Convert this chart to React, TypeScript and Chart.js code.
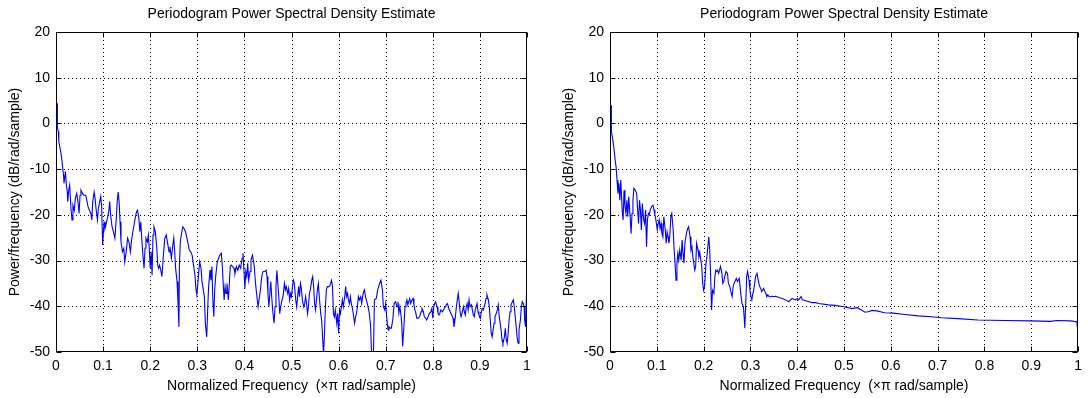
import React, { useEffect, useRef } from "react";
import { Chart, registerables } from "chart.js";

Chart.register(...registerables);
Chart.defaults.font.family = '"Liberation Sans", Arial, Helvetica, sans-serif';

// ---- shared labels and ticks ----
const chartTitle = "Periodogram Power Spectral Density Estimate";
const xAxisTitle = "Normalized Frequency  (\u00d7\u03c0 rad/sample)";
const yAxisTitle = "Power/frequency (dB/rad/sample)";
const xTicks = [0, 0.1, 0.2, 0.3, 0.4, 0.5, 0.6, 0.7, 0.8, 0.9, 1];
const xTickLabels = ["0", "0.1", "0.2", "0.3", "0.4", "0.5", "0.6", "0.7", "0.8", "0.9", "1"];
const yTicks = [-50, -40, -30, -20, -10, 0, 10, 20];
const yTickLabels = ["-50", "-40", "-30", "-20", "-10", "0", "10", "20"];

// ---- left panel: raw periodogram ----
const leftFreq = [
  0.003, 0.003, 0.005, 0.006, 0.010, 0.012, 0.014, 0.016, 0.017, 0.020,
  0.022, 0.024, 0.025, 0.027, 0.029, 0.032, 0.034, 0.036, 0.039, 0.041,
  0.044, 0.047, 0.049, 0.051, 0.053, 0.056, 0.059, 0.063, 0.066, 0.068,
  0.071, 0.074, 0.076, 0.078, 0.081, 0.083, 0.085, 0.088, 0.090, 0.092,
  0.095, 0.097, 0.099, 0.102, 0.104, 0.106, 0.109, 0.112, 0.114, 0.116,
  0.119, 0.122, 0.125, 0.128, 0.130, 0.132, 0.134, 0.136, 0.138, 0.141,
  0.144, 0.146, 0.149, 0.152, 0.155, 0.158, 0.160, 0.162, 0.165, 0.168,
  0.171, 0.173, 0.176, 0.178, 0.180, 0.182, 0.184, 0.187, 0.189, 0.191,
  0.194, 0.196, 0.198, 0.200, 0.202, 0.204, 0.206, 0.208, 0.211, 0.214,
  0.216, 0.218, 0.220, 0.223, 0.225, 0.228, 0.231, 0.234, 0.237, 0.240,
  0.242, 0.245, 0.248, 0.250, 0.252, 0.254, 0.257, 0.259, 0.261, 0.262,
  0.264, 0.266, 0.269, 0.272, 0.275, 0.278, 0.281, 0.283, 0.286, 0.289,
  0.292, 0.295, 0.297, 0.299, 0.302, 0.305, 0.308, 0.310, 0.315, 0.317,
  0.320, 0.322, 0.324, 0.327, 0.329, 0.331, 0.333, 0.335, 0.337, 0.339,
  0.342, 0.345, 0.348, 0.351, 0.353, 0.355, 0.357, 0.359, 0.361, 0.363,
  0.366, 0.368, 0.370, 0.372, 0.375, 0.378, 0.380, 0.383, 0.386, 0.389,
  0.392, 0.395, 0.397, 0.399, 0.401, 0.403, 0.405, 0.407, 0.409, 0.412,
  0.414, 0.417, 0.419, 0.421, 0.423, 0.425, 0.427, 0.429, 0.431, 0.434,
  0.436, 0.438, 0.440, 0.443, 0.446, 0.448, 0.450, 0.452, 0.454, 0.456,
  0.458, 0.460, 0.463, 0.465, 0.467, 0.469, 0.471, 0.473, 0.475, 0.477,
  0.480, 0.482, 0.485, 0.487, 0.489, 0.492, 0.494, 0.496, 0.498, 0.500,
  0.502, 0.504, 0.506, 0.509, 0.511, 0.513, 0.515, 0.517, 0.519, 0.521,
  0.523, 0.526, 0.528, 0.530, 0.532, 0.534, 0.536, 0.538, 0.540, 0.543,
  0.545, 0.547, 0.549, 0.551, 0.553, 0.555, 0.557, 0.559, 0.562, 0.564,
  0.566, 0.568, 0.570, 0.572, 0.574, 0.576, 0.579, 0.581, 0.583, 0.585,
  0.587, 0.589, 0.591, 0.593, 0.596, 0.598, 0.600, 0.602, 0.604, 0.606,
  0.608, 0.610, 0.613, 0.615, 0.617, 0.619, 0.621, 0.623, 0.625, 0.627,
  0.630, 0.632, 0.634, 0.636, 0.638, 0.640, 0.642, 0.644, 0.647, 0.649,
  0.651, 0.653, 0.655, 0.657, 0.659, 0.661, 0.664, 0.666, 0.668, 0.670,
  0.674, 0.676, 0.680, 0.683, 0.687, 0.690, 0.693, 0.695, 0.698, 0.700,
  0.702, 0.705, 0.707, 0.710, 0.712, 0.715, 0.718, 0.721, 0.724, 0.726,
  0.728, 0.730, 0.732, 0.734, 0.736, 0.739, 0.741, 0.743, 0.745, 0.747,
  0.749, 0.751, 0.753, 0.756, 0.758, 0.760, 0.762, 0.764, 0.766, 0.769,
  0.772, 0.775, 0.777, 0.780, 0.782, 0.785, 0.787, 0.790, 0.793, 0.796,
  0.798, 0.800, 0.802, 0.804, 0.806, 0.809, 0.811, 0.813, 0.815, 0.817,
  0.820, 0.823, 0.826, 0.828, 0.831, 0.834, 0.837, 0.840, 0.843, 0.845,
  0.848, 0.850, 0.852, 0.854, 0.856, 0.858, 0.860, 0.862, 0.865, 0.867,
  0.869, 0.871, 0.873, 0.875, 0.877, 0.879, 0.882, 0.884, 0.886, 0.888,
  0.890, 0.892, 0.894, 0.896, 0.898, 0.901, 0.903, 0.905, 0.907, 0.909,
  0.911, 0.913, 0.915, 0.918, 0.920, 0.922, 0.924, 0.926, 0.928, 0.930,
  0.932, 0.935, 0.937, 0.939, 0.941, 0.943, 0.945, 0.947, 0.949, 0.952,
  0.954, 0.956, 0.958, 0.960, 0.962, 0.964, 0.966, 0.969, 0.971, 0.973,
  0.975, 0.977, 0.979, 0.981, 0.983, 0.986, 0.988, 0.990, 0.992, 0.994,
  0.995, 0.997, 1.000,
];

const leftPower = [
  4.4, -1.0, -1.8, -4.0, -6.2, -7.6, -9.5, -11.3, -13.1, -10.5,
  -13.5, -15.0, -17.1, -14.6, -13.5, -19.0, -21.1, -17.9, -19.0, -16.4,
  -15.3, -17.5, -19.7, -15.7, -14.6, -15.3, -15.7, -15.7, -17.1, -18.2,
  -19.0, -19.7, -21.1, -17.1, -15.0, -16.4, -18.6, -21.1, -18.6, -17.5,
  -16.0, -18.2, -26.6, -21.5, -23.0, -22.2, -20.8, -19.3, -17.1, -20.0,
  -22.6, -23.7, -25.1, -20.8, -17.1, -15.0, -17.1, -21.5, -25.9, -28.1,
  -27.3, -30.3, -28.1, -25.1, -25.9, -28.1, -25.9, -24.4, -22.6, -20.8,
  -19.3, -19.0, -20.8, -23.7, -21.5, -25.1, -28.1, -31.7, -27.3, -25.1,
  -25.9, -24.4, -27.3, -31.7, -28.1, -33.2, -24.4, -22.6, -23.7, -27.3,
  -31.0, -31.7, -31.0, -32.4, -33.5, -28.8, -25.1, -24.4, -26.2, -28.1,
  -27.0, -29.5, -26.6, -25.1, -28.1, -31.7, -34.6, -39.0, -44.5, -31.0,
  -25.9, -24.4, -22.6, -23.0, -23.7, -25.1, -26.6, -27.7, -28.1, -28.8,
  -31.0, -33.2, -36.1, -37.5, -33.9, -30.3, -31.7, -34.6, -37.9, -43.7,
  -46.7, -40.8, -35.7, -32.1, -34.3, -31.3, -38.6, -42.3, -36.4, -33.5,
  -30.6, -29.5, -28.8, -28.4, -31.0, -35.0, -38.6, -35.7, -37.2, -35.0,
  -38.6, -35.0, -31.3, -31.0, -31.3, -31.7, -32.8, -31.3, -32.1, -31.0,
  -31.7, -29.5, -28.4, -32.1, -36.1, -32.4, -33.5, -30.6, -34.3, -32.4,
  -29.9, -28.8, -29.9, -31.3, -34.3, -36.4, -38.3, -40.1, -38.6, -36.4,
  -34.3, -32.8, -32.4, -32.4, -32.1, -33.5, -37.2, -40.1, -37.2, -34.6,
  -37.9, -40.8, -43.7, -40.1, -35.7, -32.1, -35.0, -37.9, -41.6, -40.1,
  -38.6, -37.9, -35.0, -36.4, -35.7, -37.2, -36.1, -38.6, -37.2, -37.9,
  -35.7, -34.3, -35.0, -38.6, -40.1, -37.9, -35.7, -37.9, -35.0, -36.1,
  -38.6, -40.1, -39.4, -37.9, -39.4, -41.6, -40.1, -37.2, -36.4, -34.3,
  -33.5, -35.7, -39.4, -40.8, -38.6, -36.4, -35.0, -37.9, -41.6, -43.0,
  -46.7, -50.5, -45.9, -40.1, -36.4, -35.7, -35.7, -35.6, -35.0, -34.3,
  -35.7, -41.6, -42.3, -40.8, -43.7, -41.6, -45.9, -40.8, -41.6, -40.1,
  -38.6, -40.1, -37.9, -35.7, -37.9, -37.2, -38.6, -39.4, -37.9, -39.4,
  -40.8, -42.3, -43.7, -42.3, -41.6, -40.1, -37.9, -38.6, -37.9, -39.4,
  -37.9, -36.8, -36.4, -37.9, -38.6, -39.4, -40.8, -42.3, -44.5, -50.5,
  -50.5, -38.6, -38.3, -36.4, -35.0, -34.3, -36.4, -40.1, -40.8, -39.4,
  -42.3, -45.2, -44.5, -44.8, -44.8, -43.0, -39.4, -39.0, -40.1, -39.0,
  -41.5, -40.1, -41.5, -43.7, -48.8, -43.7, -40.1, -39.4, -38.6, -39.7,
  -39.0, -38.3, -39.4, -38.6, -38.3, -39.7, -40.8, -41.5, -42.6, -42.6,
  -42.3, -41.2, -40.5, -41.2, -42.3, -42.6, -43.0, -42.3, -41.5, -41.2,
  -40.5, -42.6, -40.1, -39.4, -39.0, -40.1, -41.5, -41.9, -41.5, -40.8,
  -41.2, -40.8, -40.1, -39.7, -39.4, -40.5, -41.2, -41.9, -42.6, -44.5,
  -42.3, -40.1, -38.6, -37.2, -39.0, -41.2, -42.3, -41.5, -40.1, -41.2,
  -41.9, -40.1, -39.4, -40.8, -38.6, -40.1, -39.7, -40.8, -41.9, -42.3,
  -40.8, -40.1, -39.4, -41.2, -41.9, -42.6, -41.2, -40.5, -40.8, -40.1,
  -39.4, -38.3, -37.5, -38.6, -40.1, -43.0, -45.9, -46.7, -45.2, -43.7,
  -42.3, -41.5, -40.8, -39.7, -42.3, -43.7, -45.2, -47.4, -48.1, -46.7,
  -44.8, -47.4, -48.1, -45.9, -43.0, -41.2, -39.7, -39.0, -38.6, -40.1,
  -42.3, -44.5, -46.7, -48.1, -45.2, -43.0, -40.1, -39.0, -39.4, -40.1,
  -43.0, -44.5, -33.0,
];

// ---- right panel: windowed periodogram ----
const rightFreq = [
  0.003, 0.003, 0.006, 0.0085, 0.011, 0.013, 0.015, 0.017, 0.019, 0.021,
  0.023, 0.026, 0.028, 0.030, 0.032, 0.034, 0.036, 0.038, 0.040, 0.043,
  0.045, 0.047, 0.049, 0.051, 0.054, 0.057, 0.059, 0.061, 0.063, 0.065,
  0.067, 0.069, 0.072, 0.074, 0.076, 0.078, 0.080, 0.082, 0.084, 0.086,
  0.089, 0.092, 0.094, 0.096, 0.098, 0.101, 0.103, 0.105, 0.107, 0.109,
  0.111, 0.113, 0.115, 0.118, 0.120, 0.122, 0.124, 0.126, 0.128, 0.130,
  0.132, 0.135, 0.137, 0.139, 0.141, 0.143, 0.145, 0.147, 0.149, 0.152,
  0.154, 0.156, 0.158, 0.160, 0.162, 0.164, 0.166, 0.168, 0.171, 0.173,
  0.175, 0.177, 0.179, 0.181, 0.183, 0.185, 0.188, 0.190, 0.192, 0.194,
  0.196, 0.198, 0.200, 0.202, 0.205, 0.207, 0.209, 0.211, 0.213, 0.215,
  0.217, 0.219, 0.222, 0.224, 0.226, 0.228, 0.230, 0.232, 0.234, 0.236,
  0.239, 0.241, 0.243, 0.245, 0.248, 0.251, 0.253, 0.256, 0.259, 0.261,
  0.263, 0.265, 0.268, 0.270, 0.272, 0.274, 0.276, 0.278, 0.280, 0.282,
  0.285, 0.287, 0.288, 0.290, 0.292, 0.294, 0.297, 0.299, 0.301, 0.303,
  0.305, 0.307, 0.309, 0.311, 0.314, 0.316, 0.318, 0.320, 0.322, 0.324,
  0.326, 0.328, 0.331, 0.333, 0.335, 0.337, 0.340, 0.343, 0.347, 0.350,
  0.354, 0.361, 0.368, 0.375, 0.382, 0.386, 0.389, 0.396, 0.400, 0.403,
  0.408, 0.411, 0.418, 0.425, 0.432, 0.439, 0.446, 0.467, 0.480, 0.500,
  0.517, 0.528, 0.537, 0.545, 0.551, 0.560, 0.570, 0.587, 0.605, 0.630,
  0.658, 0.687, 0.708, 0.743, 0.786, 0.842, 0.899, 0.941, 0.955, 0.984,
  0.997, 1.000,
];

const rightPower = [
  4.0, -1.8, -3.6, -5.5, -8.0, -9.5, -12.4, -15.3, -13.1, -16.8,
  -12.4, -19.0, -21.1, -14.6, -18.2, -19.7, -16.8, -20.4, -16.0, -20.4,
  -24.1, -19.7, -16.8, -14.2, -14.6, -15.3, -18.9, -21.9, -16.8, -18.9,
  -23.3, -17.5, -21.1, -21.9, -18.9, -27.0, -21.1, -19.7, -20.0, -18.9,
  -18.2, -17.9, -18.9, -20.0, -21.1, -23.3, -21.9, -21.1, -23.0, -21.9,
  -24.1, -24.8, -20.4, -23.3, -26.2, -23.7, -24.8, -26.2, -24.1, -20.4,
  -19.7, -23.3, -27.7, -30.6, -34.3, -30.6, -28.4, -29.9, -27.7, -29.9,
  -25.5, -28.4, -30.6, -26.2, -24.8, -23.7, -23.0, -22.6, -24.8, -27.7,
  -27.0, -29.2, -30.6, -32.1, -31.3, -26.2, -27.7, -29.2, -28.4, -29.9,
  -31.3, -35.0, -36.5, -35.7, -30.6, -29.2, -27.0, -24.8, -27.7, -33.5,
  -40.8, -36.5, -37.2, -33.5, -32.1, -32.4, -32.1, -32.8, -32.1, -31.3,
  -32.8, -35.0, -34.6, -33.5, -32.4, -32.8, -35.0, -35.7, -37.2, -37.9,
  -35.7, -35.0, -34.3, -33.9, -34.6, -34.3, -33.9, -35.7, -37.9, -39.4,
  -40.1, -43.0, -44.8, -39.4, -33.5, -32.4, -34.3, -36.5, -37.9, -38.6,
  -37.2, -36.5, -35.0, -33.5, -32.8, -33.9, -35.0, -35.7, -36.1, -36.8,
  -36.5, -36.1, -36.8, -37.2, -37.9, -37.5, -37.9, -37.9, -37.8, -37.9,
  -37.8, -38.1, -38.3, -38.6, -39.0, -38.6, -38.3, -38.6, -38.3, -38.6,
  -37.9, -38.6, -38.8, -39.0, -39.2, -39.2, -39.4, -39.7, -39.8, -40.1,
  -40.5, -40.3, -40.8, -41.3, -41.2, -40.9, -41.0, -41.4, -41.5, -41.8,
  -42.1, -42.3, -42.5, -42.7, -43.0, -43.1, -43.2, -43.3, -43.1, -43.2,
  -43.4, -45.6,
];

// Dotted grid underneath the trace, solid box with inward ticks on top.
const matlabAxes = {
  id: "matlabAxes",
  beforeDatasetsDraw(chart: any) {
    const { ctx, chartArea: a, scales } = chart;
    const xs = scales.x;
    const ys = scales.y;
    ctx.save();
    ctx.strokeStyle = "#000";
    ctx.lineWidth = 1;
    ctx.setLineDash([1, 3]);
    ctx.beginPath();
    for (const v of xTicks) {
      const px = Math.round(xs.getPixelForValue(v)) + 0.5;
      if (px <= a.left + 1 || px >= a.right - 1) continue;
      ctx.moveTo(px, a.top);
      ctx.lineTo(px, a.bottom);
    }
    for (const v of yTicks) {
      const py = Math.round(ys.getPixelForValue(v)) + 0.5;
      if (py <= a.top + 1 || py >= a.bottom - 1) continue;
      ctx.moveTo(a.left, py);
      ctx.lineTo(a.right, py);
    }
    ctx.stroke();
    ctx.restore();
  },
  afterDatasetsDraw(chart: any) {
    const { ctx, chartArea: a, scales } = chart;
    const xs = scales.x;
    const ys = scales.y;
    const L = Math.round(a.left) + 0.5;
    const R = Math.round(a.right) - 0.5;
    const T = Math.round(a.top) + 0.5;
    const B = Math.round(a.bottom) - 0.5;
    const tick = 5;
    ctx.save();
    ctx.strokeStyle = "#000";
    ctx.lineWidth = 1;
    ctx.setLineDash([]);
    ctx.strokeRect(L, T, R - L, B - T);
    ctx.beginPath();
    for (const v of xTicks) {
      const px = Math.round(xs.getPixelForValue(v)) + 0.5;
      ctx.moveTo(px, B);
      ctx.lineTo(px, B - tick);
      ctx.moveTo(px, T);
      ctx.lineTo(px, T + tick);
    }
    for (const v of yTicks) {
      const py = Math.round(ys.getPixelForValue(v)) + 0.5;
      ctx.moveTo(L, py);
      ctx.lineTo(L + tick, py);
      ctx.moveTo(R, py);
      ctx.lineTo(R - tick, py);
    }
    ctx.stroke();
    ctx.restore();
  },
};

type PanelProps = {
  left: number;
  width: number;
  padRight: number;
  freq: number[];
  power: number[];
};

function PsdPanel({ left, width, padRight, freq, power }: PanelProps) {
  const ref = useRef<HTMLCanvasElement | null>(null);

  useEffect(() => {
    if (!ref.current) return;
    const points = freq.map((f, i) => ({ x: f, y: power[i] }));
    const chart = new Chart(ref.current, {
      type: "line",
      data: {
        datasets: [
          {
            data: points,
            borderColor: "#0000ff",
            borderWidth: 1.1,
            pointRadius: 0,
            tension: 0,
            fill: false,
          },
        ],
      },
      options: {
        responsive: false,
        animation: false,
        parsing: false,
        events: [],
        layout: { padding: { left: 0, right: padRight, top: 0, bottom: 0 } },
        plugins: {
          legend: { display: false },
          tooltip: { enabled: false },
          title: {
            display: true,
            text: chartTitle,
            color: "#000",
            fullSize: false,
            font: { size: 14, weight: "normal" },
            padding: { top: 6, bottom: 9.2 },
          },
        },
        scales: {
          x: {
            type: "linear",
            min: 0,
            max: 1,
            grid: { display: false, drawTicks: false },
            border: { display: false },
            afterBuildTicks: (s: any) => {
              s.ticks = xTicks.map((v) => ({ value: v }));
            },
            afterFit: (s: any) => {
              s.height = 46;
            },
            ticks: {
              color: "#000",
              font: { size: 14 },
              padding: 6,
              maxRotation: 0,
              autoSkip: false,
              callback: (_v: any, i: number) => xTickLabels[i],
            },
            title: {
              display: true,
              text: xAxisTitle,
              color: "#000",
              font: { size: 14 },
              padding: { top: 0, bottom: 3 },
            },
          },
          y: {
            type: "linear",
            min: -50,
            max: 20,
            grid: { display: false, drawTicks: false },
            border: { display: false },
            afterBuildTicks: (s: any) => {
              s.ticks = yTicks.map((v) => ({ value: v }));
            },
            afterFit: (s: any) => {
              s.width = 56;
            },
            ticks: {
              color: "#000",
              font: { size: 14 },
              padding: 6,
              autoSkip: false,
              callback: (_v: any, i: number) => yTickLabels[i],
            },
            title: {
              display: true,
              text: yAxisTitle,
              color: "#000",
              font: { size: 14 },
              padding: { top: 7, bottom: 0 },
            },
          },
        },
      } as any,
      plugins: [matlabAxes],
    });
    return () => chart.destroy();
  }, [freq, power, padRight]);

  return (
    <canvas
      ref={ref}
      width={width}
      height={398}
      style={{ position: "absolute", left, top: 0, width, height: 398 }}
    />
  );
}

export default function App() {
  return (
    <div
      style={{
        position: "absolute",
        left: 0,
        top: 0,
        width: 1088,
        height: 398,
        background: "#fff",
        overflow: "hidden",
      }}
    >
      <PsdPanel left={0} width={544} padRight={17} freq={leftFreq} power={leftPower} />
      <PsdPanel left={554} width={534} padRight={7} freq={rightFreq} power={rightPower} />
    </div>
  );
}
